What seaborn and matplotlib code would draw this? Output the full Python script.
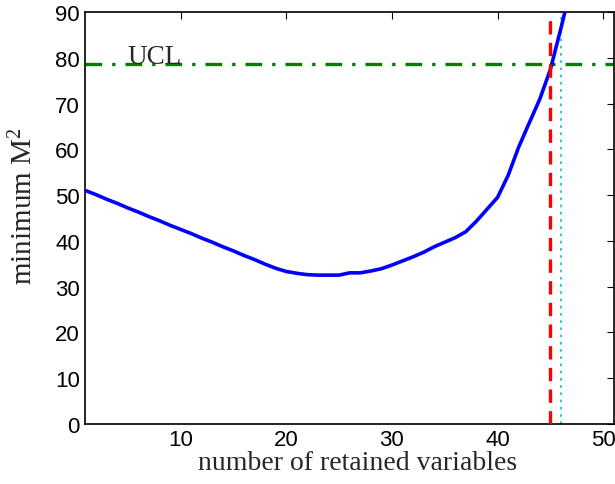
import numpy as np
import pandas as pd
import matplotlib
matplotlib.use('Agg')
import matplotlib.pyplot as plt
import seaborn as sns

# values
n_vars = list(range(1, 48))
min_m2 = [51.0, 50.1, 49.1, 48.2, 47.2, 46.3, 45.3, 44.4, 43.4, 42.5,
          41.6, 40.6, 39.7, 38.7, 37.8, 36.8, 35.9, 34.9, 34.0, 33.3,
          32.9, 32.6, 32.5, 32.5, 32.5, 33.0, 33.0, 33.4, 33.9, 34.7,
          35.6, 36.5, 37.5, 38.7, 39.7, 40.7, 42.0, 44.3, 46.9, 49.5,
          54.3, 60.5, 65.8, 71.0, 77.5, 86.5, 96.0]
ucl = 78.6
n_cut = 45
n_cut2 = 46
x_ticks = [10, 20, 30, 40, 50]
y_ticks = [0, 10, 20, 30, 40, 50, 60, 70, 80, 90]

df = pd.DataFrame({'n': n_vars, 'm2': min_m2})

sns.set_style('white')
plt.rcParams['font.family'] = ['Liberation Sans', 'DejaVu Sans']
plt.rcParams['mathtext.default'] = 'regular'

fig = plt.figure(figsize=(6.15, 4.85), dpi=100)
ax = fig.add_axes([0.139, 0.1243, 0.859, 0.8484])

sns.lineplot(data=df, x='n', y='m2', color='#0000ff', lw=2.6, ax=ax, zorder=3)
ax.axhline(ucl, color='#008000', lw=2.4, ls=(0, (5, 3, 1, 3)), zorder=2)
ax.axvline(n_cut, color='#ff0000', lw=2.4, ls=(0, (4, 2.5)), zorder=4)
ax.axvline(n_cut2, color='#20c8c8', lw=1.3, ls=(0, (1.5, 2.5)), zorder=2)
ax.text(5, ucl + 0.3, 'UCL', family='Liberation Serif', fontsize=19.5,
        va='baseline', ha='left', zorder=5)

ax.set_xlim(1, 51)
ax.set_ylim(0, 90)
ax.set_xticks(x_ticks)
ax.set_yticks(y_ticks)
ax.tick_params(direction='in', length=5, width=0.8, top=True, right=True,
               labelsize=16, colors='black', pad=4)
for s in ax.spines.values():
    s.set_visible(True)
    s.set_color('black')
    s.set_linewidth(1.2)

ax.set_xlabel('number of retained variables', family='Liberation Serif',
              fontsize=20, labelpad=2)
ax.xaxis.set_label_coords(0.515, -0.065)
ax.set_ylabel('minimum M$^2$', family='Liberation Serif', fontsize=21, labelpad=4)
ax.yaxis.set_label_coords(-0.09, 0.53)

fig.savefig('out.png', dpi=100)
